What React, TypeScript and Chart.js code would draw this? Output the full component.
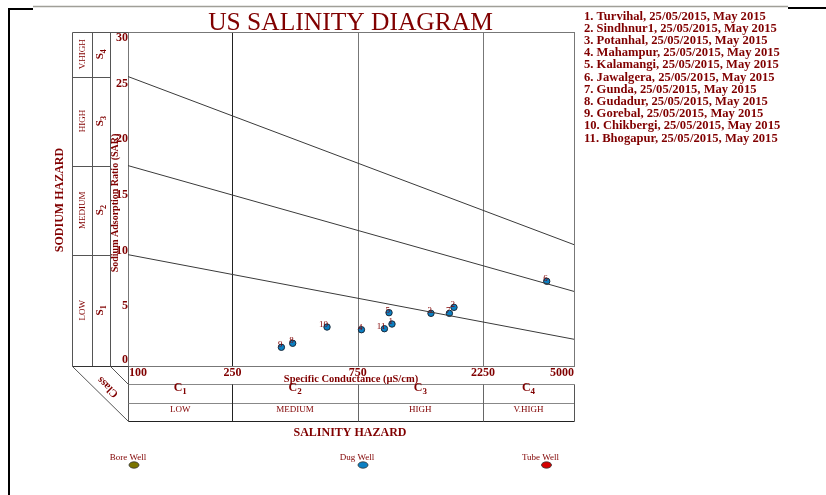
import React, { useEffect, useRef } from "react";
import { Chart, registerables } from "chart.js";
Chart.register(...registerables);

const sampleNames = ["Turvihal", "Sindhnur1", "Potanhal", "Mahampur", "Kalamangi", "Jawalgera", "Gunda", "Gudadur", "Gorebal", "Chikbergi", "Bhogapur"];
const sampleDate = "25/05/2015";
const samplePeriod = "May 2015";
const ecValues = [1013, 1745, 1426, 775, 987, 3936, 1676, 424, 384, 573, 948];
const sarValues = [3.77, 5.27, 4.73, 3.26, 4.79, 7.61, 4.73, 2.04, 1.68, 3.5, 3.35];
const xTicks = [100, 250, 750, 2250, 5000];
const yTicks = [0, 5, 10, 15, 20, 25, 30];
const salinityClassSubs = ["1", "2", "3", "4"];
const salinityLabels = ["LOW", "MEDIUM", "HIGH", "V.HIGH"];
const sodiumLabels = ["LOW", "MEDIUM", "HIGH", "V.HIGH"];
const boundaryStart = [10, 18, 26];
const boundaryEnd = [2.4, 6.7, 10.9];
const wellTypes = ["Bore Well", "Dug Well", "Tube Well"];
const wellColors = ["#7a7400", "#0b7fc2", "#d40000"];

const RED = "#800000";
const SERIF = "'Liberation Serif', 'Times New Roman', serif";

function line(ctx: CanvasRenderingContext2D, x1: number, y1: number, x2: number, y2: number, color: string, w = 1) {
  ctx.save();
  ctx.strokeStyle = color;
  ctx.lineWidth = w;
  ctx.beginPath();
  ctx.moveTo(x1, y1);
  ctx.lineTo(x2, y2);
  ctx.stroke();
  ctx.restore();
}

function subText(ctx: CanvasRenderingContext2D, main: string, sub: string, x: number, y: number, size: number) {
  ctx.font = `bold ${size}px ${SERIF}`;
  const w1 = ctx.measureText(main).width;
  ctx.font = `bold ${size - 3}px ${SERIF}`;
  const w2 = ctx.measureText(sub).width;
  const start = x - (w1 + w2) / 2;
  ctx.textAlign = "left";
  ctx.textBaseline = "middle";
  ctx.font = `bold ${size}px ${SERIF}`;
  ctx.fillText(main, start, y);
  ctx.font = `bold ${size - 3}px ${SERIF}`;
  ctx.fillText(sub, start + w1, y + 4);
}

const diagramPlugin = {
  id: "diagram",
  beforeDatasetsDraw(chart: any) {
    const { ctx, chartArea: a, scales } = chart;
    const xs = scales.x;
    xTicks.slice(1, -1).forEach((v, i) => {
      const px = Math.round(xs.getPixelForValue(v)) + 0.5;
      line(ctx, px, a.top, px, a.bottom, i === 0 ? "#222" : "#777");
    });
    ctx.save();
    ctx.strokeStyle = "#777";
    ctx.lineWidth = 1;
    ctx.strokeRect(Math.round(a.left) + 0.5, Math.round(a.top) + 0.5, a.right - a.left, a.bottom - a.top);
    ctx.restore();
  },
  afterDatasetsDraw(chart: any) {
    const { ctx, scales } = chart;
    const xs = scales.x;
    const ys = scales.y;
    ctx.save();
    ctx.fillStyle = RED;
    ctx.font = `9px ${SERIF}`;
    ctx.textAlign = "right";
    ctx.textBaseline = "alphabetic";
    ecValues.forEach((ec, i) => {
      const px = xs.getPixelForValue(ec);
      const py = ys.getPixelForValue(sarValues[i]);
      ctx.fillText(String(i + 1), px + 1, py);
    });
    ctx.restore();
  },
  afterDraw(chart: any) {
    const { ctx, chartArea: a, scales } = chart;
    const xs = scales.x;
    const ys = scales.y;
    const L = Math.round(a.left) + 0.5;
    const R = Math.round(a.right) + 0.5;
    const T = Math.round(a.top) + 0.5;
    const B = Math.round(a.bottom) + 0.5;
    ctx.save();

    line(ctx, 9, 9, 9, 495, "#000", 2);
    line(ctx, 8, 9, 33, 9, "#000", 2);
    line(ctx, 33, 6.5, 788, 6.5, "#a09f98", 1.5);
    line(ctx, 788, 8, 826, 8, "#000", 2);

    ctx.fillStyle = RED;
    ctx.textAlign = "center";
    ctx.textBaseline = "alphabetic";
    ctx.font = `25.5px ${SERIF}`;
    ctx.fillText("US SALINITY DIAGRAM", 350.5, 30);

    ctx.textAlign = "left";
    ctx.font = `bold 12.6px ${SERIF}`;
    sampleNames.forEach((n, i) => {
      ctx.fillText(`${i + 1}. ${n}, ${sampleDate}, ${samplePeriod}`, 584, 19.5 + i * 12.2);
    });

    const c0 = 72.5, c1 = 92.5, c2 = 110.5;
    line(ctx, c0, T, c0, B, "#555");
    line(ctx, c1, T, c1, B, "#555");
    line(ctx, c2, T, c2, B, "#555");
    line(ctx, c0, T, L, T, "#555");
    line(ctx, c0, B, L, B, "#333");
    const bounds = [a.bottom, ...boundaryStart.map((s) => ys.getPixelForValue(s)), a.top];
    boundaryStart.forEach((s) => {
      const py = Math.round(ys.getPixelForValue(s)) + 0.5;
      line(ctx, c0, py, c2, py, "#555");
    });
    for (let i = 0; i < 4; i++) {
      const cy = (bounds[i] + bounds[i + 1]) / 2;
      ctx.save();
      ctx.translate(82.5, cy);
      ctx.rotate(-Math.PI / 2);
      ctx.textAlign = "center";
      ctx.textBaseline = "middle";
      ctx.font = `9px ${SERIF}`;
      ctx.fillText(sodiumLabels[i], 0, 0);
      ctx.restore();
      ctx.save();
      ctx.translate(100, cy);
      ctx.rotate(-Math.PI / 2);
      subText(ctx, "S", String(i + 1), 0, 0, 11);
      ctx.restore();
    }
    ctx.save();
    ctx.translate(60, 200);
    ctx.rotate(-Math.PI / 2);
    ctx.textAlign = "center";
    ctx.textBaseline = "middle";
    ctx.font = `bold 12px ${SERIF}`;
    ctx.fillText("SODIUM HAZARD", 0, 0);
    ctx.restore();
    ctx.save();
    ctx.translate(115, 203);
    ctx.rotate(-Math.PI / 2);
    ctx.textAlign = "center";
    ctx.textBaseline = "middle";
    ctx.font = `bold 10px ${SERIF}`;
    ctx.fillText("Sodium Adsorption Ratio (SAR)", 0, 0);
    ctx.restore();
    ctx.font = `bold 12px ${SERIF}`;
    ctx.textAlign = "right";
    ctx.textBaseline = "middle";
    yTicks.forEach((v) => {
      let py = ys.getPixelForValue(v) - 4;
      py = Math.max(a.top + 6, Math.min(a.bottom - 6, py));
      ctx.fillText(String(v), 128, py);
    });

    const r1 = 384.5, r2 = 403.5, r3 = 421.5;
    line(ctx, L, B, L, r3, "#555");
    line(ctx, L, r1, R, r1, "#888");
    line(ctx, L, r2, R, r2, "#888");
    line(ctx, L, r3, R, r3, "#222");
    line(ctx, R, r1, R, r3, "#555");
    const colX = xTicks.map((v) => xs.getPixelForValue(v));
    colX.slice(1, -1).forEach((px, i) => line(ctx, Math.round(px) + 0.5, r1, Math.round(px) + 0.5, r3, i === 0 ? "#222" : "#666"));
    line(ctx, c0, B, L, r3, "#555");
    line(ctx, c2, B, L, r1, "#555");
    ctx.save();
    ctx.translate(108, 387);
    ctx.rotate((225 * Math.PI) / 180);
    ctx.textAlign = "center";
    ctx.textBaseline = "middle";
    ctx.font = `bold 11px ${SERIF}`;
    ctx.fillText("Class", 0, 0);
    ctx.restore();
    ctx.font = `bold 12px ${SERIF}`;
    ctx.textBaseline = "middle";
    xTicks.forEach((v, i) => {
      const px = xs.getPixelForValue(v);
      if (i === 0) {
        ctx.textAlign = "left";
        ctx.fillText(String(v), px + 1, 373);
      } else if (i === xTicks.length - 1) {
        ctx.textAlign = "right";
        ctx.fillText(String(v), px, 373);
      } else {
        ctx.textAlign = "center";
        ctx.fillText(String(v), px, 373);
      }
    });
    ctx.textAlign = "center";
    ctx.font = `bold 10.5px ${SERIF}`;
    ctx.fillText("Specific Conductance (\u00b5S/cm)", 351, 379);
    for (let i = 0; i < 4; i++) {
      const cx = (colX[i] + colX[i + 1]) / 2;
      subText(ctx, "C", salinityClassSubs[i], cx, 388, 12);
      ctx.textAlign = "center";
      ctx.textBaseline = "middle";
      ctx.font = `9px ${SERIF}`;
      ctx.fillText(salinityLabels[i], cx, 410);
    }
    ctx.font = `bold 12px ${SERIF}`;
    ctx.textAlign = "center";
    ctx.fillText("SALINITY HAZARD", 350, 433);

    const lx = [134, 363, 546.5];
    wellTypes.forEach((w, i) => {
      ctx.fillStyle = RED;
      ctx.font = `9px ${SERIF}`;
      ctx.textAlign = "center";
      ctx.textBaseline = "middle";
      ctx.fillText(w, lx[i] - 6, 458);
      ctx.beginPath();
      ctx.ellipse(lx[i], 465, 5, 3.2, 0, 0, Math.PI * 2);
      ctx.fillStyle = wellColors[i];
      ctx.fill();
      ctx.strokeStyle = "#333";
      ctx.lineWidth = 0.8;
      ctx.stroke();
    });
    ctx.restore();
  },
};

export default function App() {
  const ref = useRef<HTMLCanvasElement | null>(null);
  useEffect(() => {
    if (!ref.current) return;
    const boundaryDatasets = boundaryStart.map((s, i) => ({
      type: "line" as const,
      data: [
        { x: xTicks[0], y: s },
        { x: xTicks[xTicks.length - 1], y: boundaryEnd[i] },
      ],
      borderColor: "#3a3a3a",
      borderWidth: 1,
      pointRadius: 0,
      fill: false,
    }));
    const chart = new Chart(ref.current, {
      type: "scatter",
      data: {
        datasets: [
          ...boundaryDatasets,
          {
            type: "scatter" as const,
            data: ecValues.map((x, i) => ({ x, y: sarValues[i] })),
            pointRadius: 3.2,
            pointBackgroundColor: wellColors[1],
            pointBorderColor: "#1a2a3a",
            pointBorderWidth: 1,
          },
        ] as any,
      },
      options: {
        responsive: false,
        animation: false,
        layout: { padding: { left: 128, top: 32, right: 252, bottom: 129 } },
        plugins: { legend: { display: false }, tooltip: { enabled: false }, title: { display: false } },
        scales: {
          x: { type: "logarithmic", min: 100, max: 5000, display: false },
          y: { type: "linear", min: 0, max: 30, display: false },
        },
      },
      plugins: [diagramPlugin],
    });
    return () => chart.destroy();
  }, []);
  return (
    <div style={{ position: "fixed", left: 0, top: 0, width: 826, height: 495, background: "#fff" }}>
      <canvas ref={ref} width={826} height={495} style={{ width: 826, height: 495 }} />
    </div>
  );
}
